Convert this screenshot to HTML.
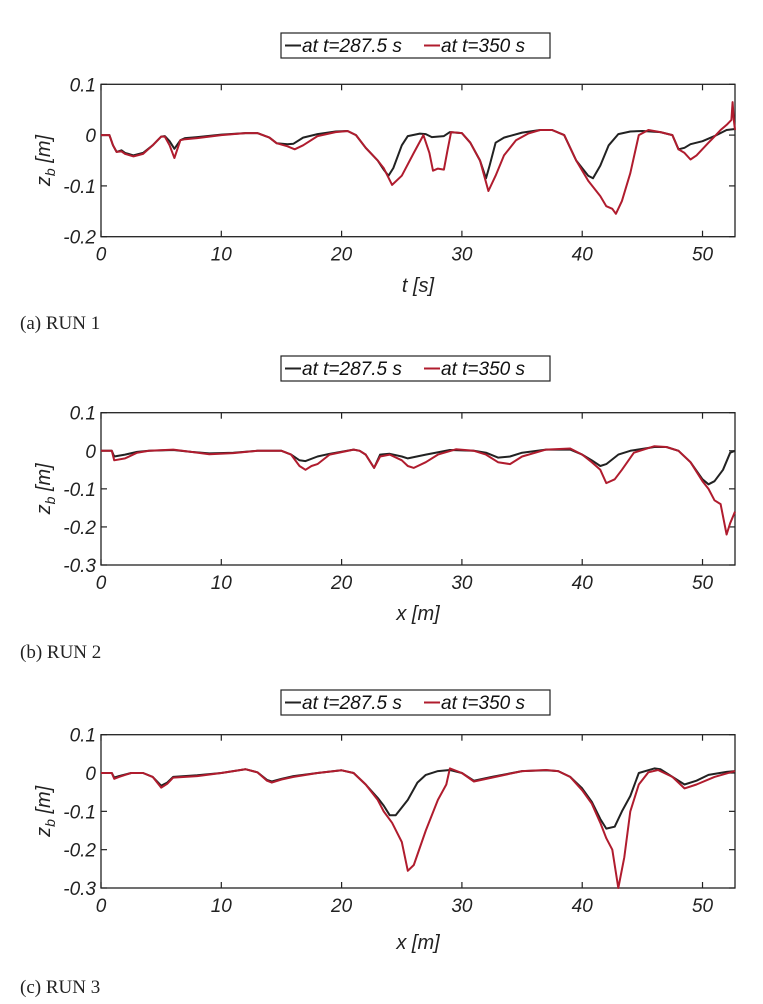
<!DOCTYPE html>
<html><head><meta charset="utf-8"><style>
html,body{margin:0;padding:0;background:#fff;width:763px;height:1004px;overflow:hidden}
svg{display:block}
.tk{font-family:"Liberation Sans",sans-serif;font-style:italic;font-size:19px;fill:#222}
.ax{font-family:"Liberation Sans",sans-serif;font-style:italic;font-size:20px;fill:#222}
.cap{font-family:"Liberation Serif",serif;font-size:19px;fill:#222}
.lg{font-family:"Liberation Sans",sans-serif;font-style:italic;font-size:19px;fill:#111}
</style></head><body>
<svg id="fig" width="763" height="1004"></svg>
<script>
// Panel (a) RUN 1
const xA_black=[0,0.7,1,1.3,1.7,2,2.7,3.5,4.3,5,5.3,5.7,6.1,6.6,7,8,10,12,13,14,14.6,15.5,16,16.8,18,19.5,20.5,21.2,22,23,23.5,23.9,24.3,25,25.5,26.5,27,27.5,28.5,29,30,30.7,31.5,32,32.3,32.8,33.5,35,36.5,37.5,38.5,39.5,40.5,40.9,41.5,42.2,43,44,45,46.5,47.5,48,48.5,49,50,51,52,52.7];
const yA_black=[0,0,-0.02,-0.033,-0.03,-0.035,-0.04,-0.035,-0.02,-0.003,-0.002,-0.012,-0.027,-0.01,-0.006,-0.004,0.001,0.004,0.004,-0.005,-0.016,-0.018,-0.017,-0.005,0.002,0.007,0.008,0,-0.025,-0.05,-0.068,-0.08,-0.065,-0.02,-0.002,0.003,0.002,-0.004,-0.002,0.006,0.004,-0.015,-0.05,-0.085,-0.06,-0.015,-0.005,0.005,0.01,0.01,0,-0.05,-0.08,-0.085,-0.06,-0.02,0.002,0.007,0.008,0.006,0,-0.028,-0.025,-0.018,-0.012,-0.002,0.01,0.012];
const xA_red=[0,0.7,1,1.3,1.7,2,2.7,3.5,4.3,5,5.3,5.7,6.1,6.6,7,8,10,12,13,14,14.6,15.5,16.1,16.8,18,19.5,20.5,21.2,22,23,23.5,24.2,25,26,26.8,27.3,27.6,28,28.5,28.8,29.1,30,30.7,31.5,32.2,32.8,33.5,34.5,35.5,36.5,37.5,38.5,39.5,40.5,41.5,42,42.5,42.8,43.3,44,44.7,45.5,46.5,47.5,48,48.5,49,49.5,50.5,51,51.5,52,52.4,52.5,52.6,52.7];
const yA_red=[0,0,-0.02,-0.033,-0.032,-0.037,-0.042,-0.037,-0.02,-0.003,-0.003,-0.02,-0.045,-0.01,-0.008,-0.006,0,0.004,0.004,-0.005,-0.016,-0.022,-0.028,-0.02,-0.002,0.006,0.008,0,-0.025,-0.05,-0.065,-0.098,-0.08,-0.035,0,-0.035,-0.07,-0.066,-0.068,-0.03,0.006,0.004,-0.015,-0.05,-0.11,-0.08,-0.04,-0.01,0.003,0.01,0.01,0,-0.05,-0.09,-0.12,-0.14,-0.145,-0.155,-0.13,-0.075,0,0.01,0.006,0,-0.028,-0.035,-0.048,-0.04,-0.015,-0.003,0.01,0.02,0.03,0.065,0.03,0.01];
// Panel (b) RUN 2
const xB_black=[0,0.9,1.1,2,3,4,6,7.5,9,11,13,15,15.8,16.5,17,18,19,21,21.5,22,22.5,22.7,23.2,24,25,25.5,27,29,31,32,33,34,35,37,39,40,40.8,41.5,42,43,44,46,47,48,49,50,50.5,51,51.7,52.3,52.7];
const yB_black=[0,0,-0.015,-0.01,-0.003,0,0.002,-0.003,-0.007,-0.005,0,0,-0.01,-0.025,-0.027,-0.015,-0.008,0.003,0,-0.01,-0.035,-0.045,-0.01,-0.008,-0.015,-0.02,-0.01,0.002,0,-0.005,-0.018,-0.015,-0.005,0.003,0.003,-0.01,-0.025,-0.04,-0.035,-0.01,0,0.01,0.01,0,-0.03,-0.075,-0.088,-0.08,-0.05,-0.005,0];
const xB_red=[0,0.9,1.1,2,3,4,6,7.5,9,11,13,15,15.8,16.5,17,17.5,18,19,21,21.5,22,22.5,22.7,23.2,24,25,25.5,26,27,28,29.5,31,32,33,34,35,37,39,40,40.8,41.5,42,42.7,43.3,44.3,46,47,48,49,50,50.5,51,51.5,52,52.3,52.7];
const yB_red=[0,0,-0.025,-0.02,-0.005,0,0.003,-0.003,-0.009,-0.006,0,0,-0.01,-0.04,-0.05,-0.04,-0.035,-0.01,0.003,0,-0.01,-0.035,-0.045,-0.015,-0.01,-0.025,-0.04,-0.045,-0.03,-0.01,0.004,0,-0.01,-0.03,-0.035,-0.015,0.003,0.006,-0.01,-0.03,-0.05,-0.085,-0.075,-0.05,-0.005,0.012,0.01,0,-0.03,-0.08,-0.1,-0.13,-0.14,-0.22,-0.19,-0.16];
// Panel (c) RUN 3
const xC_black=[0,0.9,1.1,1.5,2.5,3.5,4.3,5,5.5,6,8,10,12,13,13.8,14.2,15,16,18,20,21,22,23,23.5,24,24.5,25.5,26.3,27,28,29,30,31,32.5,35,37,38,39,40,40.8,41.5,42,42.7,43.3,44,44.7,46,46.5,47.5,48.5,49.5,50.5,52,52.7];
const yC_black=[0,0,-0.012,-0.008,0,0,-0.01,-0.033,-0.025,-0.01,-0.006,0,0.01,0.002,-0.018,-0.022,-0.015,-0.008,0,0.007,0,-0.03,-0.065,-0.085,-0.11,-0.11,-0.07,-0.025,-0.005,0.005,0.008,0,-0.02,-0.01,0.005,0.007,0.005,-0.01,-0.04,-0.075,-0.12,-0.145,-0.14,-0.1,-0.06,0,0.012,0.01,-0.01,-0.03,-0.02,-0.005,0.003,0.005];
const xC_red=[0,0.9,1.1,1.5,2.5,3.5,4.3,5,5.5,6,8,10,12,13,13.8,14.2,15,16,18,20,21,22,23,23.5,24.2,25,25.5,26,27,28,28.7,29,30,31,32.5,35,37,38,39,40,40.8,41.5,42,42.5,43,43.5,44,44.7,45.5,46.3,47.5,48.5,49.5,51,52.7];
const yC_red=[0,0,-0.015,-0.01,0,0,-0.01,-0.038,-0.028,-0.012,-0.008,0,0.01,0.002,-0.02,-0.025,-0.017,-0.01,0,0.007,0,-0.03,-0.07,-0.1,-0.13,-0.18,-0.255,-0.24,-0.15,-0.07,-0.03,0.012,0,-0.022,-0.012,0.005,0.008,0.005,-0.01,-0.045,-0.08,-0.13,-0.17,-0.2,-0.3,-0.22,-0.1,-0.03,0.002,0.008,-0.01,-0.04,-0.03,-0.01,0.005];
const xTicks=[0,10,20,30,40,50];
const yTicksA=[0.1,0,-0.1,-0.2];
const yTicksB=[0.1,0,-0.1,-0.2,-0.3];
const yTicksC=[0.1,0,-0.1,-0.2,-0.3];

const NS="http://www.w3.org/2000/svg";
const svg=document.getElementById('fig');
function mk(tag,attrs,parent){const e=document.createElementNS(NS,tag);for(const k in attrs)e.setAttribute(k,attrs[k]);(parent||svg).appendChild(e);return e;}

const panels=[
 {id:'a',top:84.3,bottom:236.7,ymin:-0.2,ymax:0.1,yt:yTicksA,xb:xA_black,yb:yA_black,xr:xA_red,yr:yA_red,legY:33,xl:'t [s]',xlY:292,cap:'(a)  RUN  1',capY:329},
 {id:'b',top:412.7,bottom:565,ymin:-0.3,ymax:0.1,yt:yTicksB,xb:xB_black,yb:yB_black,xr:xB_red,yr:yB_red,legY:356,xl:'x [m]',xlY:620,cap:'(b)  RUN  2',capY:658},
 {id:'c',top:734.7,bottom:888,ymin:-0.3,ymax:0.1,yt:yTicksC,xb:xC_black,yb:yC_black,xr:xC_red,yr:yC_red,legY:690,xl:'x [m]',xlY:949,cap:'(c)  RUN  3',capY:993}
];
const L=101,R=735,XMAX=52.7;
panels.forEach(p=>{
 const g=mk('g',{});
 
 
 const sx=v=>L+(v/XMAX)*(R-L);
 const sy=v=>p.top+(p.ymax-v)/(p.ymax-p.ymin)*(p.bottom-p.top);
 const lg=mk('g',{},g);
 
 
 mk('rect',{x:281,y:p.legY,width:269,height:25,fill:'#fff',stroke:'#222','stroke-width':1.2},lg);
 const e1=mk('g',{},lg);
 
 
 mk('line',{x1:285,x2:301,y1:p.legY+12.5,y2:p.legY+12.5,stroke:'#222','stroke-width':2},e1);
 const t1=mk('text',{x:302,y:p.legY+19,class:'lg'},e1);t1.textContent='at t=287.5 s';
 const e2=mk('g',{},lg);
 
 
 mk('line',{x1:424,x2:440,y1:p.legY+12.5,y2:p.legY+12.5,stroke:'#b01c2e','stroke-width':2},e2);
 const t2=mk('text',{x:441,y:p.legY+19,class:'lg'},e2);t2.textContent='at t=350 s';
 const box=mk('rect',{x:L,y:p.top,width:R-L,height:p.bottom-p.top,fill:'none',stroke:'#222','stroke-width':1.3},g);
 
 
 xTicks.forEach(v=>{
  const x=sx(v);
  mk('line',{x1:x,x2:x,y1:p.bottom,y2:p.bottom-6,stroke:'#222','stroke-width':1.2},g);
  mk('line',{x1:x,x2:x,y1:p.top,y2:p.top+6,stroke:'#222','stroke-width':1.2},g);
  const t=mk('text',{x:x,y:p.bottom+24,'text-anchor':'middle',class:'tk'},g);
  
  
  t.textContent=String(v);
 });
 p.yt.forEach(v=>{
  const y=sy(v);
  mk('line',{x1:L,x2:L+6,y1:y,y2:y,stroke:'#222','stroke-width':1.2},g);
  mk('line',{x1:R,x2:R-6,y1:y,y2:y,stroke:'#222','stroke-width':1.2},g);
  const t=mk('text',{x:L-5,y:y+7,'text-anchor':'end',class:'tk'},g);
  
  
  t.textContent=(v===0?'0':String(v));
 });
 const path=(xs,ys)=>xs.map((v,i)=>(i?'L':'M')+sx(v).toFixed(1)+','+sy(ys[i]).toFixed(1)).join('');
 const lb=mk('path',{d:path(p.xb,p.yb),fill:'none',stroke:'#222','stroke-width':2,'stroke-linejoin':'round'},g);
 
 
 const lr=mk('path',{d:path(p.xr,p.yr),fill:'none',stroke:'#b01c2e','stroke-width':2,'stroke-linejoin':'round'},g);
 
 
 const xl=mk('text',{x:(L+R)/2,y:p.xlY,'text-anchor':'middle',class:'ax'},g);
 
 
 xl.textContent=p.xl;
 const cy=(p.top+p.bottom)/2;
 const yl=mk('text',{x:0,y:0,'text-anchor':'middle',class:'ax',transform:'translate(50,'+cy+') rotate(-90)'},g);
 
 
 yl.innerHTML='z<tspan dy="5" font-size="14">b</tspan><tspan dy="-5"> [m]</tspan>';
 const cap=mk('text',{x:20,y:p.capY,class:'cap'},g);
 
 
 cap.textContent=p.cap;
});
</script>
</body></html>
